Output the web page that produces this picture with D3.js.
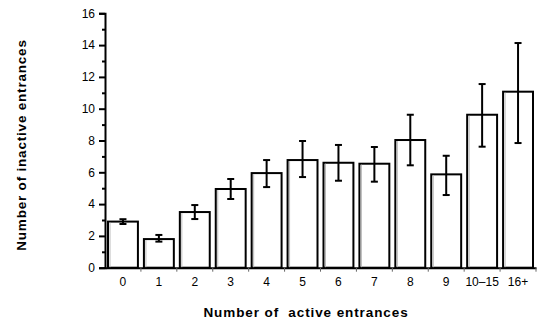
<!DOCTYPE html>
<html>
<head>
	<script src="https://d3js.org/d3.v7.min.js"></script>
	<style>
		body { margin: 0; background: #fff; }
		text { font-family: "Liberation Sans", Arial, sans-serif; }
	</style>
</head>
<body>
	<div id="chart"></div>
	<script>
		// values
		var categories = ["0", "1", "2", "3", "4", "5", "6", "7", "8", "9", "10\u201315", "16+"];
		var means = [2.9, 1.8, 3.5, 4.95, 5.95, 6.77, 6.6, 6.54, 8.03, 5.87, 9.62, 11.07];
		var errLow = [2.75, 1.64, 3.06, 4.32, 5.07, 5.7, 5.47, 5.41, 6.44, 4.57, 7.61, 7.84];
		var errHigh = [3.05, 2.06, 3.94, 5.58, 6.77, 7.97, 7.72, 7.59, 9.62, 7.04, 11.55, 14.13];
		var yTicks = [0, 2, 4, 6, 8, 10, 12, 14, 16];

		var data = categories.map(function (c, i) {
			return { cat: c, mean: means[i], lo: errLow[i], hi: errHigh[i] };
		});

		var svg = d3.select("#chart").append("svg")
			.attr("width", 542)
			.attr("height", 322);

		var x = d3.scaleBand()
			.domain(categories)
			.range([105, 536]);

		var y = d3.scaleLinear()
			.domain([0, 16])
			.range([267.7, 13.3]);

		// bars
		var bars = svg.selectAll(".bar")
			.data(data)
			.enter()
			.append("g");

		bars.append("rect")
			.attr("x", function (d) { return x(d.cat) + 3; })
			.attr("y", function (d) { return y(d.mean); })
			.attr("width", x.bandwidth() - 6)
			.attr("height", function (d) { return y(0) - y(d.mean); })
			.attr("fill", "#fff")
			.attr("stroke", "#000")
			.attr("stroke-width", 2);

		// faint grey edge inside the left side
		bars.append("line")
			.attr("x1", function (d) { return x(d.cat) + 5; })
			.attr("x2", function (d) { return x(d.cat) + 5; })
			.attr("y1", function (d) { return y(d.mean) + 1; })
			.attr("y2", y(0))
			.attr("stroke", "#bbb")
			.attr("stroke-width", 1);

		// error bars
		var cap = 3.5;
		bars.append("line")
			.attr("x1", function (d) { return x(d.cat) + x.bandwidth() / 2; })
			.attr("x2", function (d) { return x(d.cat) + x.bandwidth() / 2; })
			.attr("y1", function (d) { return y(d.lo); })
			.attr("y2", function (d) { return y(d.hi); })
			.attr("stroke", "#000")
			.attr("stroke-width", 2);

		bars.append("line")
			.attr("x1", function (d) { return x(d.cat) + x.bandwidth() / 2 - cap; })
			.attr("x2", function (d) { return x(d.cat) + x.bandwidth() / 2 + cap; })
			.attr("y1", function (d) { return y(d.hi); })
			.attr("y2", function (d) { return y(d.hi); })
			.attr("stroke", "#000")
			.attr("stroke-width", 2);

		bars.append("line")
			.attr("x1", function (d) { return x(d.cat) + x.bandwidth() / 2 - cap; })
			.attr("x2", function (d) { return x(d.cat) + x.bandwidth() / 2 + cap; })
			.attr("y1", function (d) { return y(d.lo); })
			.attr("y2", function (d) { return y(d.lo); })
			.attr("stroke", "#000")
			.attr("stroke-width", 2);

		// y axis with minor ticks
		var yAxis = svg.append("g")
			.attr("transform", "translate(105,0)")
			.call(d3.axisLeft(y).tickValues(yTicks).tickSize(6).tickPadding(4));
		yAxis.select(".domain").attr("stroke-width", 2);
		yAxis.selectAll(".tick line").attr("stroke-width", 2);
		yAxis.selectAll(".tick text").attr("font-size", 12).attr("fill", "#000");

		var minor = svg.append("g")
			.attr("transform", "translate(105,0)")
			.call(d3.axisLeft(y).tickValues([1, 3, 5, 7, 9, 11, 13, 15]).tickSize(3).tickFormat(""));
		minor.select(".domain").remove();
		minor.selectAll(".tick line").attr("stroke-width", 2);

		// x axis: ticks between the categories
		var xAxis = svg.append("g")
			.attr("transform", "translate(0," + y(0) + ")")
			.call(d3.axisBottom(x).tickSize(0).tickPadding(10));
		xAxis.select(".domain").attr("stroke-width", 2);
		xAxis.selectAll(".tick text").attr("font-size", 12).attr("fill", "#000");

		svg.append("g")
			.selectAll("line")
			.data(categories.slice(1).concat(["end"]))
			.enter()
			.append("line")
			.attr("x1", function (d) { return d === "end" ? x.range()[1] : x(d); })
			.attr("x2", function (d) { return d === "end" ? x.range()[1] : x(d); })
			.attr("y1", y(0))
			.attr("y2", y(0) + 4)
			.attr("stroke", "#666")
			.attr("stroke-width", 1);

		// axis titles
		svg.append("text")
			.attr("x", 306)
			.attr("y", 317)
			.attr("text-anchor", "middle")
			.attr("font-size", 13.5)
			.attr("font-weight", "bold")
			.attr("letter-spacing", 0.9)
			.style("white-space", "pre")
			.text("Number of  active entrances");

		svg.append("text")
			.attr("transform", "translate(26,145) rotate(-90)")
			.attr("text-anchor", "middle")
			.attr("font-size", 13.5)
			.attr("font-weight", "bold")
			.attr("letter-spacing", 0.8)
			.text("Number of inactive entrances");
	</script>
</body>
</html>
